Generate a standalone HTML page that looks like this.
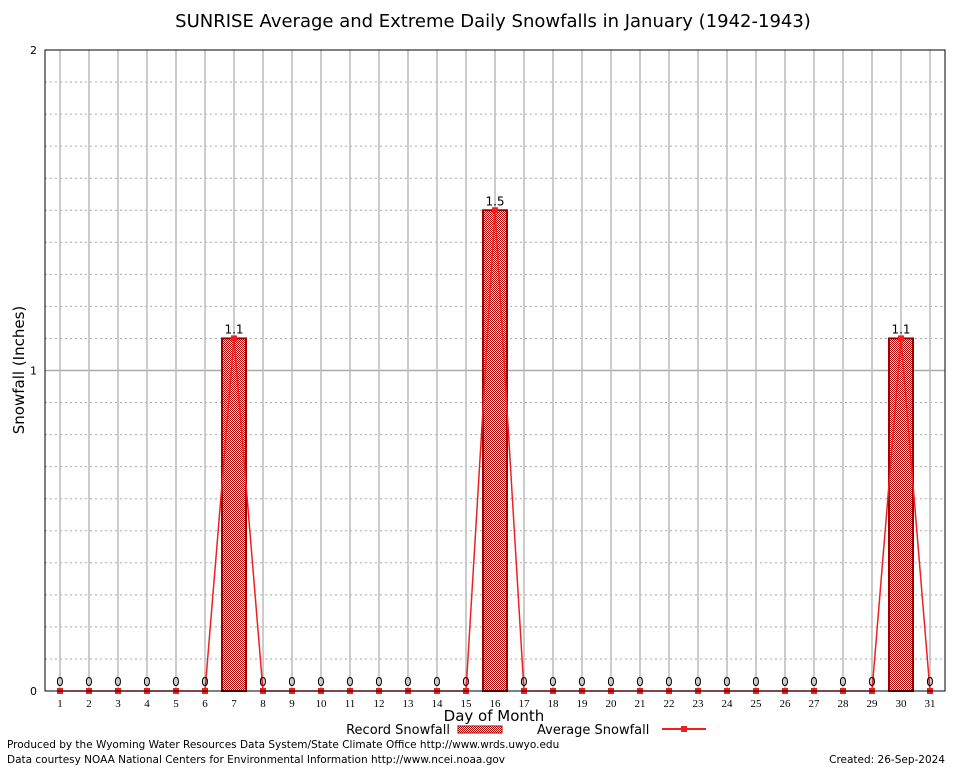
<!DOCTYPE html>
<html><head><meta charset="utf-8"><style>
body{margin:0;background:#fff;width:954px;height:768px;overflow:hidden}
svg{font-family:"DejaVu Sans","Liberation Sans",sans-serif}
</style></head><body>
<svg id="c" width="954" height="768">
<defs><pattern id="chk" width="2" height="2" patternUnits="userSpaceOnUse"><rect width="2" height="2" fill="#fff"/><rect width="1" height="1" fill="#b00000"/><rect x="1" y="1" width="1" height="1" fill="#b00000"/></pattern></defs>
<text x="493" y="27" font-size="18" text-anchor="middle">SUNRISE Average and Extreme Daily Snowfalls in January (1942-1943)</text>
<g id="grid"></g><g id="marks"></g>
<rect x="45" y="50" width="900" height="641" fill="none" stroke="#000"/>
<text transform="translate(24,370) rotate(-90)" font-size="15" text-anchor="middle">Snowfall (Inches)</text>
<text x="494" y="721" font-size="15" text-anchor="middle">Day of Month</text>
<g>
<text x="450" y="734" font-size="13" text-anchor="end">Record Snowfall</text>
<rect x="458" y="726" width="44" height="7" fill="url(#chk)" stroke="#a00000"/>
<text x="537" y="734" font-size="13">Average Snowfall</text>
<line x1="662" y1="729" x2="706" y2="729" stroke="#f02020" stroke-width="2"/>
<rect x="681" y="726" width="6" height="6" fill="#f02020"/>
</g>
<text x="7" y="748" font-size="10.5">Produced by the Wyoming Water Resources Data System/State Climate Office http://www.wrds.uwyo.edu</text>
<text x="7" y="763" font-size="10.5">Data courtesy NOAA National Centers for Environmental Information http://www.ncei.noaa.gov</text>
<text x="945" y="763" font-size="10.5" text-anchor="end">Created:  26-Sep-2024</text>
</svg>
<script>
const days=[1,2,3,4,5,6,7,8,9,10,11,12,13,14,15,16,17,18,19,20,21,22,23,24,25,26,27,28,29,30,31];
const record=[0,0,0,0,0,0,1.1,0,0,0,0,0,0,0,0,1.5,0,0,0,0,0,0,0,0,0,0,0,0,0,1.1,0];
const average=[0,0,0,0,0,0,1.1,0,0,0,0,0,0,0,0,1.5,0,0,0,0,0,0,0,0,0,0,0,0,0,1.1,0];
const yTicks=[0,1,2];
const NS="http://www.w3.org/2000/svg";
const X=d=>60+(d-1)*29, Y=v=>691-v*320.5;
function mk(t,a,p){const e=document.createElementNS(NS,t);for(const k in a)e.setAttribute(k,a[k]);p.appendChild(e);return e;}
const g=document.getElementById('grid'),m=document.getElementById('marks');
for(let i=1;i<20;i++){const v=i/10;if(i===10)continue;
const l=mk('line',{x1:45,x2:945,y1:Y(v),y2:Y(v),stroke:'#aaa','stroke-dasharray':'2,3'},g);

}
yTicks.forEach(v=>{
if(v>0&&v<2){const l=mk('line',{x1:45,x2:945,y1:Y(v),y2:Y(v),stroke:'#aaa','stroke-width':1.5},g);

}
const t=mk('text',{x:37,y:Y(v)+4,'font-size':11,'text-anchor':'end'},g);t.textContent=v;


});
days.forEach(d=>{
const l=mk('line',{x1:X(d),x2:X(d),y1:50,y2:691,stroke:'#bbb','stroke-width':1.5},g);


const t=mk('text',{x:X(d),y:707,'font-size':11,'text-anchor':'middle','font-family':'Liberation Serif,serif'},g);t.textContent=d;


});
days.forEach((d,i)=>{if(record[i]>0){
const b=mk('rect',{x:X(d)-12,y:Y(record[i]),width:24,height:691-Y(record[i]),fill:'url(#chk)',stroke:'#a00000','stroke-width':2},m);

}});
const pl=mk('polyline',{points:days.map((d,i)=>X(d)+','+Y(average[i])).join(' '),fill:'none',stroke:'#f02020','stroke-width':1.5},m);


days.forEach((d,i)=>{
const p=mk('rect',{x:X(d)-3,y:Y(average[i])-3,width:6,height:6,fill:'#f02020'},m);


const t=mk('text',{x:X(d),y:Y(record[i])-5,'font-size':12,'text-anchor':'middle'},m);t.textContent=record[i];


});
</script>
</body></html>
